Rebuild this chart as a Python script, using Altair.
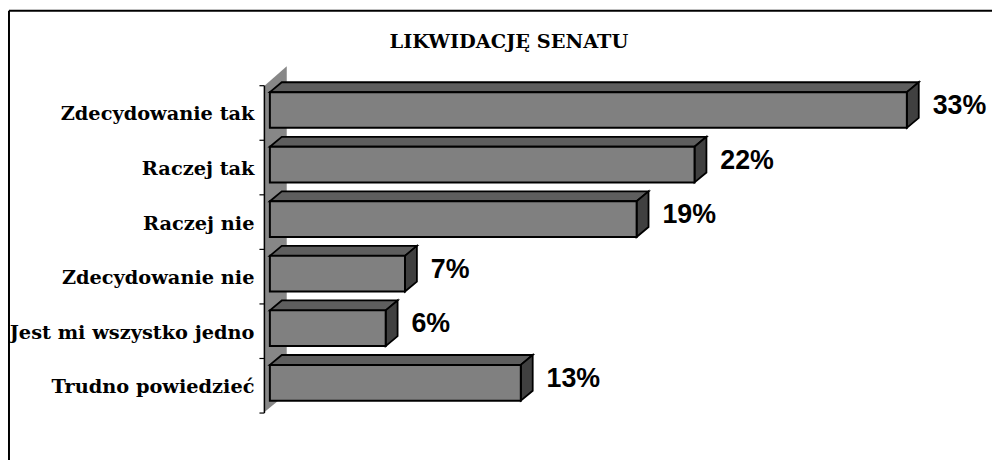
import altair as alt
import pandas as pd

# ---- data ----
CATEGORIES = ["Zdecydowanie tak", "Raczej tak", "Raczej nie",
              "Zdecydowanie nie", "Jest mi wszystko jedno", "Trudno powiedzieć"]
VALUES = [33, 22, 19, 7, 6, 13]
VALUE_LABELS = ["33%", "22%", "19%", "7%", "6%", "13%"]
TITLE = "LIKWIDACJĘ SENATU"

# ---- geometry (pixels) ----
PAD_L, PAD_T = 264, 76
W, H = 720, 330
XMAX = 37.0
N = len(CATEGORIES)
PXX = W / XMAX          # px per percentage point
PXY = H / N             # px per category band
FT, FB = 7, 43          # front face top / bottom within band (px)
DX, DY = 12, 10         # 3D depth of bars (px)
WALL_X0, WALL_X1 = -6, 17
WALL_DY = 19

dxu, dyu = DX / PXX, DY / PXY

front_rows, top_rows, side_rows, lab_rows = [], [], [], []
for k, (c, v, l) in enumerate(zip(CATEGORIES, VALUES, VALUE_LABELS)):
    t = k + FT / PXY
    b = k + FB / PXY
    front_rows.append({"cat": c, "x0": 0, "val": v, "y0": t, "y1": b})
    top_rows += [
        {"cat": c, "x": 0, "y": t, "y2": t},
        {"cat": c, "x": dxu, "y": t - dyu, "y2": t},
        {"cat": c, "x": v, "y": t - dyu, "y2": t},
        {"cat": c, "x": v + dxu, "y": t - dyu, "y2": t - dyu},
    ]
    side_rows += [
        {"cat": c, "y": t - dyu, "x": v + dxu, "x2": v + dxu},
        {"cat": c, "y": t, "x": v, "x2": v + dxu},
        {"cat": c, "y": b - dyu, "x": v, "x2": v + dxu},
        {"cat": c, "y": b, "x": v, "x2": v},
    ]
    lab_rows.append({"cat": c, "val": v, "lab": l, "ly": (t - dyu + b) / 2 + 1 / PXY})

wx0, wx1 = WALL_X0 / PXX, WALL_X1 / PXX
wdy = WALL_DY / PXY
wall_rows = [
    {"y": -wdy, "x": wx1, "x2": wx1},
    {"y": 1 / PXY, "x": wx0, "x2": wx1},
    {"y": N - wdy, "x": wx0, "x2": wx1},
    {"y": N, "x": wx0, "x2": wx0},
]

xs = alt.Scale(domain=[0, XMAX], nice=False, zero=False)
ys = alt.Scale(domain=[0, N], nice=False, zero=False, reverse=True)

label_expr = "[" + ",".join("'" + c + "'" for c in CATEGORIES) + "][datum.value] || ''"

yaxis = alt.Axis(
    values=list(range(N + 1)), title=None, offset=6, zindex=1,
    domainColor="black", domainWidth=1.5, tickColor="black", tickWidth=1.2, tickSize=5,
    labelExpr=label_expr, labelOffset=29, labelPadding=5, labelLimit=400,
    labelFont="DejaVu Serif", labelFontWeight="bold", labelFontSize=19.5, labelColor="black",
    labelOverlap=False, labelBound=False, labelFlush=False, grid=False,
)

wall = alt.Chart(pd.DataFrame(wall_rows)).mark_area(
    orient="horizontal", color="#878787"
).encode(
    y=alt.Y("y:Q", scale=ys, axis=yaxis),
    x=alt.X("x:Q", scale=xs, axis=None),
    x2="x2:Q",
)

top = alt.Chart(pd.DataFrame(top_rows)).mark_area(
    orient="vertical", fill="#5e5e5e", stroke="black", strokeWidth=1.8, strokeJoin="miter"
).encode(
    x=alt.X("x:Q", scale=xs, axis=None),
    y=alt.Y("y:Q", scale=ys, axis=yaxis),
    y2="y2:Q",
    detail="cat:N",
)

side = alt.Chart(pd.DataFrame(side_rows)).mark_area(
    orient="horizontal", fill="#404040", stroke="black", strokeWidth=1.8, strokeJoin="miter"
).encode(
    y=alt.Y("y:Q", scale=ys, axis=yaxis),
    x=alt.X("x:Q", scale=xs, axis=None),
    x2="x2:Q",
    detail="cat:N",
)

front = alt.Chart(pd.DataFrame(front_rows)).mark_rect(
    fill="#808080", stroke="black", strokeWidth=2
).encode(
    x=alt.X("x0:Q", scale=xs, axis=None),
    x2="val:Q",
    y=alt.Y("y0:Q", scale=ys, axis=yaxis),
    y2="y1:Q",
)

labels = alt.Chart(pd.DataFrame(lab_rows)).mark_text(
    align="left", baseline="middle", dx=26, font="Liberation Sans",
    fontWeight="bold", fontSize=27, color="black"
).encode(
    x=alt.X("val:Q", scale=xs, axis=None),
    y=alt.Y("ly:Q", scale=ys, axis=yaxis),
    text="lab:N",
)

title = alt.Chart(alt.Data(values=[{"t": TITLE}])).mark_text(
    align="center", baseline="middle", font="DejaVu Serif",
    fontWeight="bold", fontSize=19.5, color="black"
).encode(
    x=alt.value(241), y=alt.value(-44), text="t:N"
)

frame_top = alt.Chart(alt.Data(values=[{}])).mark_rule(
    color="black", strokeWidth=2
).encode(x=alt.value(-PAD_L + 1), x2=alt.value(W + 20), y=alt.value(-75))

frame_left = alt.Chart(alt.Data(values=[{}])).mark_rule(
    color="black", strokeWidth=2
).encode(x=alt.value(-PAD_L + 1), y=alt.value(-75), y2=alt.value(H + 60))

chart = alt.layer(
    frame_top, frame_left, wall, top, side, front, labels, title
).properties(
    width=W, height=H,
    padding={"left": PAD_L, "top": PAD_T, "right": 8, "bottom": 46},
    autosize=alt.AutoSizeParams(type="none"),
).configure_view(stroke=None)

chart.save("out.html", embed_options={"renderer": "svg", "actions": False})
